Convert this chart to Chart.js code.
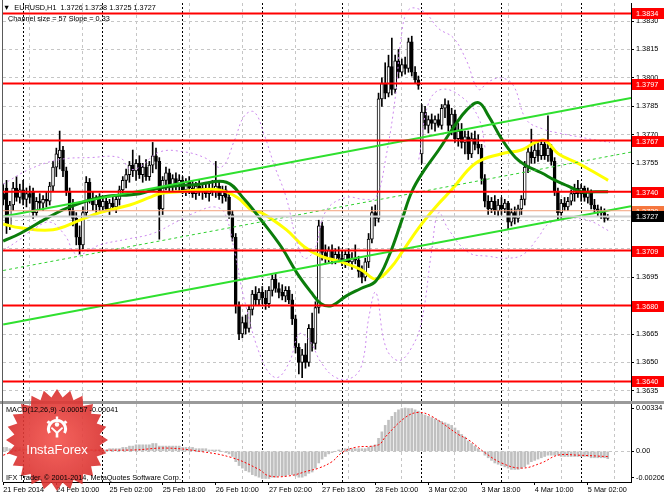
<!DOCTYPE html>
<html>
<head>
<meta charset="utf-8">
<script src="https://cdn.jsdelivr.net/npm/chart.js@4.4.0/dist/chart.umd.min.js"></script>
<style>
  html, body { margin: 0; padding: 0; background: #fff; }
  #wrap { position: relative; width: 664px; height: 498px; overflow: hidden; font-family: "Liberation Sans", Arial, sans-serif; }
  canvas { position: absolute; left: 0; top: 0; }
  .txt { position: absolute; font-size: 7.3px; line-height: 1; color: #000; white-space: pre; }
  #badge { position: absolute; left: 5px; top: 388px; opacity: 0.9; }
  #badgeText { position: absolute; left: 5px; top: 443px; width: 104px; text-align: center; color: #fff; font-size: 13px; line-height: 1; }
</style>
</head>
<body>
<div id="wrap">
  <canvas id="main" width="664" height="498"></canvas>
  <canvas id="macd" width="664" height="498"></canvas>
  <svg id="badge" width="104" height="104" viewBox="0 0 104 104">
    <defs>
      <radialGradient id="rg" cx="50%" cy="50%" r="50%">
        <stop offset="0%" stop-color="#f4524c"/>
        <stop offset="100%" stop-color="#d8302e"/>
      </radialGradient>
    </defs>
    <polygon id="star" fill="url(#rg)"/>
    <g fill="#fff">
      <path d="M44.5 45 A8.5 8.5 0 1 1 59.5 45" fill="none" stroke="#fff" stroke-width="3"/>
      <rect x="50.8" y="28.5" width="2.4" height="3"/>
      <rect x="42" y="33" width="3" height="2.4" transform="rotate(-40 43.5 34.2)"/>
      <rect x="59" y="33" width="3" height="2.4" transform="rotate(40 60.5 34.2)"/>
      <circle cx="52" cy="36.5" r="2.2"/>
      <path d="M47 39 L52 43.5 L57 39 L58.2 40.2 L53.3 45 L53.3 49.5 L50.7 49.5 L50.7 45 L45.8 40.2 Z"/>
    </g>
  </svg>
  <div id="badgeText">InstaForex</div>
  <div class="txt" style="left:3px;top:4px">▼  EURUSD,H1  1.3726 1.3728 1.3725 1.3727</div>
  <div class="txt" style="left:8px;top:15px">Channel size = 57 Slope = 0.33</div>
  <div class="txt" style="left:6px;top:406px">MACD(12,26,9) -0.00057 -0.00041</div>
  <div class="txt" style="left:6px;top:474px">IFX Trader, © 2001-2014, MetaQuotes Software Corp.</div>
</div>
<script>
const FONT = 'Liberation Sans';
const X_MIN = -0.06;
const X_MAX = 189;

// candles, EURUSD H1, bar 0 = 21 Feb 18:00
const opens = [
  1.3739, 1.3742, 1.3722, 1.3733, 1.3742, 1.3737, 1.3741, 1.3736, 1.3739, 1.3740,
  1.3729, 1.3735, 1.3734, 1.3736, 1.3735, 1.3743, 1.3753, 1.3758, 1.3762, 1.3751,
  1.3740, 1.3730, 1.3726, 1.3716, 1.3712, 1.3729, 1.3745, 1.3736, 1.3733, 1.3736,
  1.3732, 1.3735, 1.3731, 1.3734, 1.3732, 1.3736, 1.3741, 1.3746, 1.3749, 1.3754,
  1.3751, 1.3755, 1.3749, 1.3753, 1.3748, 1.3754, 1.3759, 1.3756, 1.3731, 1.3746,
  1.3750, 1.3743, 1.3747, 1.3744, 1.3746, 1.3741, 1.3745, 1.3742, 1.3739, 1.3743,
  1.3740, 1.3742, 1.3739, 1.3742, 1.3740, 1.3743, 1.3738, 1.3741, 1.3737, 1.3728,
  1.3716, 1.3680, 1.3665, 1.3671, 1.3668, 1.3678, 1.3686, 1.3683, 1.3687, 1.3684,
  1.3681, 1.3688, 1.3694, 1.3689, 1.3687, 1.3685, 1.3688, 1.3683, 1.3673, 1.3658,
  1.3650, 1.3654, 1.3650, 1.3668, 1.3660, 1.3679, 1.3722, 1.3708, 1.3705, 1.3709,
  1.3704, 1.3707, 1.3705, 1.3703, 1.3707, 1.3703, 1.3705, 1.3704, 1.3698, 1.3695,
  1.3703, 1.3715, 1.3729, 1.3726, 1.3789, 1.3797, 1.3792, 1.3806, 1.3794, 1.3809,
  1.3803, 1.3807, 1.3805, 1.3819, 1.3803, 1.3799, 1.3760, 1.3782, 1.3775, 1.3778,
  1.3776, 1.3778, 1.3775, 1.3784, 1.3786, 1.3775, 1.3781, 1.3768, 1.3772, 1.3766,
  1.3769, 1.3760, 1.3768, 1.3765, 1.3763, 1.3747, 1.3735, 1.3731, 1.3735, 1.3730,
  1.3733, 1.3731, 1.3734, 1.3724, 1.3729, 1.3726, 1.3731, 1.3736, 1.3753, 1.3761,
  1.3758, 1.3762, 1.3759, 1.3765, 1.3759, 1.3763, 1.3756, 1.3740, 1.3729, 1.3734,
  1.3732, 1.3735, 1.3739, 1.3742, 1.3739, 1.3742, 1.3737, 1.3740, 1.3733, 1.3731,
  1.3730, 1.3729, 1.3726
];
const highs = [
  1.3744, 1.3746, 1.3735, 1.3745, 1.3748, 1.3744, 1.3746, 1.3742, 1.3743, 1.3742,
  1.3737, 1.3739, 1.3738, 1.3740, 1.3745, 1.3756, 1.3763, 1.3772, 1.3764, 1.3753,
  1.3742, 1.3736, 1.3729, 1.3722, 1.3732, 1.3748, 1.3747, 1.3740, 1.3738, 1.3739,
  1.3737, 1.3738, 1.3736, 1.3737, 1.3738, 1.3743, 1.3748, 1.3752, 1.3756, 1.3762,
  1.3757, 1.3759, 1.3755, 1.3757, 1.3756, 1.3766, 1.3763, 1.3758, 1.3748, 1.3753,
  1.3752, 1.3749, 1.3750, 1.3749, 1.3748, 1.3747, 1.3748, 1.3746, 1.3745, 1.3746,
  1.3744, 1.3745, 1.3744, 1.3746, 1.3756, 1.3746, 1.3743, 1.3743, 1.3739, 1.3730,
  1.3718, 1.3682, 1.3674, 1.3675, 1.3680, 1.3688, 1.3690, 1.3689, 1.3690, 1.3688,
  1.3690, 1.3696, 1.3697, 1.3692, 1.3691, 1.3690, 1.3690, 1.3686, 1.3675, 1.3660,
  1.3657, 1.3660, 1.3670, 1.3676, 1.3682, 1.3725, 1.3724, 1.3712, 1.3711, 1.3712,
  1.3710, 1.3711, 1.3709, 1.3709, 1.3710, 1.3708, 1.3712, 1.3706, 1.3701, 1.3705,
  1.3718, 1.3732, 1.3733, 1.3792, 1.3800, 1.3808, 1.3812, 1.3821, 1.3812, 1.3815,
  1.3810, 1.3811, 1.3821, 1.3822, 1.3806, 1.3801, 1.3786, 1.3785, 1.3780, 1.3781,
  1.3780, 1.3781, 1.3786, 1.3789, 1.3788, 1.3784, 1.3783, 1.3776, 1.3776, 1.3772,
  1.3772, 1.3771, 1.3772, 1.3770, 1.3765, 1.3749, 1.3738, 1.3737, 1.3738, 1.3736,
  1.3737, 1.3736, 1.3735, 1.3731, 1.3732, 1.3733, 1.3738, 1.3756, 1.3764, 1.3773,
  1.3765, 1.3766, 1.3767, 1.3767, 1.3780, 1.3765, 1.3758, 1.3742, 1.3736, 1.3737,
  1.3737, 1.3741, 1.3744, 1.3746, 1.3744, 1.3743, 1.3742, 1.3741, 1.3736, 1.3733,
  1.3732, 1.3731, 1.3728
];
const lows = [
  1.3733, 1.3718, 1.3720, 1.3730, 1.3735, 1.3734, 1.3733, 1.3732, 1.3734, 1.3726,
  1.3727, 1.3731, 1.3730, 1.3732, 1.3733, 1.3740, 1.3748, 1.3752, 1.3748, 1.3738,
  1.3727, 1.3722, 1.3712, 1.3707, 1.3710, 1.3727, 1.3734, 1.3730, 1.3729, 1.3730,
  1.3729, 1.3730, 1.3728, 1.3730, 1.3729, 1.3733, 1.3738, 1.3742, 1.3745, 1.3748,
  1.3746, 1.3747, 1.3745, 1.3746, 1.3746, 1.3750, 1.3752, 1.3715, 1.3728, 1.3741,
  1.3740, 1.3740, 1.3741, 1.3740, 1.3739, 1.3738, 1.3739, 1.3737, 1.3736, 1.3738,
  1.3736, 1.3737, 1.3735, 1.3738, 1.3737, 1.3736, 1.3734, 1.3735, 1.3726, 1.3714,
  1.3676, 1.3662, 1.3663, 1.3665, 1.3666, 1.3675, 1.3680, 1.3680, 1.3681, 1.3678,
  1.3679, 1.3685, 1.3687, 1.3684, 1.3683, 1.3682, 1.3681, 1.3670, 1.3655, 1.3644,
  1.3642, 1.3647, 1.3648, 1.3656, 1.3657, 1.3676, 1.3704, 1.3702, 1.3703, 1.3702,
  1.3702, 1.3703, 1.3701, 1.3700, 1.3701, 1.3699, 1.3702, 1.3695, 1.3692, 1.3693,
  1.3700, 1.3713, 1.3722, 1.3724, 1.3785, 1.3789, 1.3790, 1.3791, 1.3792, 1.3800,
  1.3801, 1.3802, 1.3803, 1.3801, 1.3797, 1.3794, 1.3755, 1.3773, 1.3771, 1.3773,
  1.3772, 1.3774, 1.3773, 1.3779, 1.3772, 1.3770, 1.3766, 1.3764, 1.3763, 1.3760,
  1.3757, 1.3758, 1.3762, 1.3760, 1.3744, 1.3732, 1.3728, 1.3729, 1.3728, 1.3727,
  1.3728, 1.3729, 1.3720, 1.3722, 1.3723, 1.3724, 1.3728, 1.3733, 1.3750, 1.3755,
  1.3755, 1.3756, 1.3757, 1.3757, 1.3756, 1.3754, 1.3738, 1.3725, 1.3726, 1.3730,
  1.3730, 1.3733, 1.3735, 1.3737, 1.3735, 1.3735, 1.3734, 1.3731, 1.3729, 1.3727,
  1.3726, 1.3724, 1.3725
];
const closes = [
  1.3736, 1.3722, 1.3733, 1.3742, 1.3737, 1.3741, 1.3736, 1.3739, 1.3737, 1.3729,
  1.3735, 1.3734, 1.3736, 1.3735, 1.3743, 1.3753, 1.3760, 1.3762, 1.3751, 1.3740,
  1.3730, 1.3726, 1.3716, 1.3712, 1.3729, 1.3745, 1.3736, 1.3733, 1.3736, 1.3732,
  1.3735, 1.3731, 1.3734, 1.3732, 1.3736, 1.3741, 1.3746, 1.3749, 1.3754, 1.3751,
  1.3755, 1.3749, 1.3753, 1.3748, 1.3754, 1.3759, 1.3756, 1.3731, 1.3746, 1.3750,
  1.3743, 1.3747, 1.3744, 1.3746, 1.3741, 1.3745, 1.3742, 1.3739, 1.3743, 1.3740,
  1.3742, 1.3739, 1.3742, 1.3740, 1.3743, 1.3738, 1.3741, 1.3737, 1.3728, 1.3716,
  1.3680, 1.3665, 1.3671, 1.3668, 1.3678, 1.3686, 1.3683, 1.3687, 1.3684, 1.3681,
  1.3688, 1.3694, 1.3689, 1.3687, 1.3685, 1.3688, 1.3683, 1.3673, 1.3658, 1.3650,
  1.3654, 1.3650, 1.3668, 1.3660, 1.3679, 1.3722, 1.3708, 1.3705, 1.3709, 1.3704,
  1.3707, 1.3705, 1.3703, 1.3707, 1.3703, 1.3705, 1.3704, 1.3698, 1.3695, 1.3703,
  1.3715, 1.3729, 1.3726, 1.3789, 1.3797, 1.3792, 1.3806, 1.3794, 1.3809, 1.3803,
  1.3807, 1.3805, 1.3819, 1.3803, 1.3799, 1.3796, 1.3782, 1.3775, 1.3778, 1.3776,
  1.3778, 1.3775, 1.3784, 1.3786, 1.3775, 1.3781, 1.3768, 1.3772, 1.3766, 1.3769,
  1.3760, 1.3768, 1.3765, 1.3763, 1.3747, 1.3735, 1.3731, 1.3735, 1.3730, 1.3733,
  1.3731, 1.3734, 1.3724, 1.3729, 1.3726, 1.3731, 1.3736, 1.3753, 1.3761, 1.3758,
  1.3762, 1.3759, 1.3765, 1.3759, 1.3763, 1.3756, 1.3740, 1.3729, 1.3734, 1.3732,
  1.3735, 1.3739, 1.3742, 1.3739, 1.3742, 1.3737, 1.3740, 1.3733, 1.3731, 1.3730,
  1.3729, 1.3726, 1.3727
];

// moving averages (bar, price)
const greenMaBars = [0, 5.1, 14.1, 20.1, 29.1, 41.1, 47.1, 59.1, 67.2, 72.6, 77.7, 83.7, 88.5, 92.7, 95.7, 99, 103.2, 107.7, 112.2, 116.1, 120, 123, 126.6, 131.1, 135.6, 139.5, 143.1, 146.1, 150, 154.2, 157.2, 162, 166.2, 170.1, 174, 178.2, 182.1];
const greenMaValues = [1.3714, 1.3718, 1.3727, 1.3732, 1.3737, 1.3739, 1.3742, 1.3744, 1.3745, 1.3736, 1.3725, 1.3711, 1.3697, 1.3687, 1.3681, 1.3680, 1.3685, 1.3689, 1.3693, 1.3706, 1.3725, 1.3740, 1.3751, 1.3762, 1.3774, 1.3783, 1.3787, 1.3780, 1.3768, 1.3758, 1.3754, 1.3750, 1.3746, 1.3743, 1.3740, 1.3740, 1.3740];
const yellowMaBars = [0, 5.1, 15, 23.1, 29.1, 38.1, 44.1, 47.1, 53.1, 59.1, 65.1, 70.5, 75, 77.7, 85.2, 90.6, 95.7, 101.7, 107.7, 112.2, 116.7, 120, 125.1, 130.2, 135, 142.2, 150, 156, 160.2, 163.2, 167.1, 173.1, 178.2, 182.1];
const yellowMaValues = [1.3723, 1.3721, 1.3720, 1.3725, 1.3729, 1.3733, 1.3737, 1.3739, 1.3740, 1.3741, 1.3741, 1.3737, 1.3730, 1.3729, 1.3720, 1.3711, 1.3706, 1.3703, 1.3699, 1.3694, 1.3700, 1.3708, 1.3721, 1.3732, 1.3741, 1.3755, 1.3760, 1.3762, 1.3766, 1.3767, 1.3760, 1.3755, 1.3750, 1.3746];

// dotted violet bands
const upperBandBars = [0, 8.1, 17.1, 26.1, 35.1, 38.1, 41.1, 47.1, 54.6, 60.6, 65.7, 69.6, 72.6, 75.6, 78.6, 81.6, 85.2, 88.2, 90.6, 93.6, 97.2, 103.2, 108.6, 112.2, 115.2, 118.2, 119.7, 122.1, 126.6, 131.1, 135.6, 139.5, 143.1, 146.1, 150, 153.6, 157.5, 162.6, 167.1, 173.1, 179.1, 182.7];
const upperBandValues = [1.3744, 1.3752, 1.3757, 1.3758, 1.3758, 1.3752, 1.3753, 1.3761, 1.3761, 1.3758, 1.3753, 1.3767, 1.3780, 1.3782, 1.3770, 1.3754, 1.3737, 1.3715, 1.3705, 1.3709, 1.3730, 1.3737, 1.3736, 1.3737, 1.3758, 1.3792, 1.3820, 1.3836, 1.3835, 1.3826, 1.3821, 1.3809, 1.3794, 1.3798, 1.3800, 1.3796, 1.3778, 1.3773, 1.3771, 1.3769, 1.3767, 1.3766];
const lowerBandBars = [0, 5.1, 8.1, 14.1, 18.6, 22.2, 29.1, 37.2, 45, 53.1, 59.1, 63.6, 66.6, 69.6, 72.6, 78, 82.2, 86.1, 89.1, 92.1, 95.7, 100.2, 105, 108, 110.1, 112.2, 115.2, 119.1, 123, 126, 129, 131.1, 134.1, 140.1, 146.1, 152.1, 156.6, 161.1, 164.1, 170.1, 176.1, 182.7];
const lowerBandValues = [1.3709, 1.3715, 1.3719, 1.3724, 1.3717, 1.3707, 1.3712, 1.3715, 1.3718, 1.3725, 1.3730, 1.3732, 1.3729, 1.3709, 1.3683, 1.3651, 1.3642, 1.3650, 1.3665, 1.3662, 1.3650, 1.3642, 1.3642, 1.3649, 1.3674, 1.3687, 1.3658, 1.3651, 1.3658, 1.3672, 1.3709, 1.3729, 1.3720, 1.3708, 1.3706, 1.3705, 1.3707, 1.3716, 1.3723, 1.3726, 1.3725, 1.3719];
const arcBandBars = [125.1, 128.1, 132, 138, 143.1, 145.2];
const arcBandValues = [1.3757, 1.3787, 1.3794, 1.3790, 1.3779, 1.3762];

// equidistant channel (size 57, slope 0.33)
const channelBars = [0, 189];
const channelUpper = [1.3727, 1.37894];
const channelMiddle = [1.36985, 1.37609];
const channelLower = [1.3670, 1.37324];

const levels = [1.3834, 1.3797, 1.3767, 1.3740, 1.3709, 1.3680, 1.3640];
const askLevel = 1.3730;
const lastPrice = 1.3727;

const priceTicks = [1.3830, 1.3815, 1.3800, 1.3785, 1.3770, 1.3755, 1.3740, 1.3725, 1.3710, 1.3695, 1.3680, 1.3665, 1.3650, 1.3635];
const gridBars = [8, 24, 40, 56, 72, 88, 104, 120, 136, 152, 168, 184];
const daySeparatorBars = [6, 30, 54, 78, 102, 126, 150, 174];
const timeTickBars = [0, 16, 32, 48, 64, 80, 96, 112, 128, 144, 160, 176];
const timeLabels = ["21 Feb 2014", "24 Feb 10:00", "25 Feb 02:00", "25 Feb 18:00", "26 Feb 10:00", "27 Feb 02:00", "27 Feb 18:00", "28 Feb 10:00", "3 Mar 02:00", "3 Mar 18:00", "4 Mar 10:00", "5 Mar 02:00"];

// MACD(12,26,9)
const macdMain = [
  0.0003, 0.0003, 0.0002, 0.0002, 0.0003, 0.0003, 0.0003, 0.0002, 0.0002,
  0.0001, 0.0001, 0.0001, 0.0001, 0.0001, 0.0002, 0.0003, 0.0004, 0.0005, 0.0004,
  0.0003, 0.0001, 0.0000, -0.0001, -0.0001, 0.0000, 0.0001, 0.0001, 0.0001, 0.0001,
  0.0001, 0.0001,
  0.0001, 0.0002, 0.0002, 0.0002, 0.0002, 0.0003, 0.0003, 0.0004,
  0.0004, 0.0005, 0.0005, 0.0005, 0.0005, 0.0005, 0.0006, 0.0006, 0.0004, 0.0004,
  0.0004, 0.0004, 0.0004, 0.0004, 0.0004, 0.0003, 0.0003, 0.0003, 0.0003, 0.0002, 0.0002, 0.0002,
  0.0002, 0.0001, 0.0001, 0.0001, 0.0001, 0.0000,
  -0.0001, -0.0002, -0.0004, -0.0008,
  -0.0011, -0.0013, -0.0015, -0.0016, -0.0018, -0.0019, -0.0020, -0.0021,
  -0.0021, -0.0021, -0.0020, -0.0020, -0.0019, -0.0019, -0.0019, -0.0018,
  -0.0018, -0.0019, -0.0020, -0.0020, -0.0019, -0.0017, -0.0016, -0.0013, -0.0009, -0.0006,
  -0.0004, -0.0002, -0.0001, 0.0000, 0.0001, 0.0001, 0.0002, 0.0002, 0.0002, 0.0002, 0.0002, 0.0002,
  0.0002, 0.0003, 0.0004, 0.0005, 0.0010,
  0.0015, 0.0020, 0.0024, 0.0027, 0.0030,
  0.0032, 0.0033, 0.00334, 0.0033, 0.0033,
  0.0032, 0.0031, 0.0029, 0.0028, 0.0027, 0.0026, 0.0025,
  0.0024, 0.0023, 0.0022, 0.0021, 0.0020, 0.0018, 0.0016,
  0.0013, 0.0011, 0.0008, 0.0006, 0.0004, 0.0002,
  0.0000, -0.0003, -0.0005, -0.0007, -0.0009, -0.0010, -0.0011, -0.0012, -0.0013,
  -0.0014, -0.0014, -0.0014, -0.0013, -0.0012, -0.0010, -0.0008, -0.0007,
  -0.0006, -0.0005, -0.0004, -0.0003, -0.0003, -0.0003,
  -0.0003, -0.0004, -0.0004, -0.0004, -0.0004, -0.0004, -0.0004, -0.0004,
  -0.0004, -0.0004, -0.0005, -0.0005, -0.0005, -0.0005, -0.0005, -0.00057
];
const signalBars = [0, 5, 20, 39, 49, 59, 69, 77, 80, 86, 92, 95, 99, 102, 106, 113, 115, 121, 125, 129, 137, 140, 145, 150, 156, 162, 167, 173, 182];
const signalValues = [-0.0003, 0.0001, 0.0001, 0.0001, 0.00025, 0.0, -0.0005, -0.0014, -0.0019, -0.0019, -0.0015, -0.0013, -0.0008, -0.0001, 0.0003, 0.0005, 0.0011, 0.0026, 0.0030, 0.0027, 0.0013, 0.0009, -0.0001, -0.0009, -0.0013, -0.0009, -0.0003, -0.0003, -0.00041];

// starburst badge outline
const star = [];
for (let k = 0; k < 48; k++) {
  const r = k % 2 ? 43 : 51;
  const a = Math.PI * k / 24;
  star.push((52 + r * Math.sin(a)).toFixed(1) + ',' + (52 - r * Math.cos(a)).toFixed(1));
}
document.getElementById('star').setAttribute('points', star.join(' '));

const pts = (xs, ys) => xs.map((x, i) => ({ x: x, y: ys[i] }));
const flat = (v) => [{ x: X_MIN, y: v }, { x: X_MAX, y: v }];

function hiddenX(list, color, dash) {
  return {
    type: 'linear', min: X_MIN, max: X_MAX, position: 'bottom', bounds: 'data', offset: false,
    afterBuildTicks: (s) => { s.ticks = list.map((v) => ({ value: v })); },
    afterFit: (s) => { s.height = 0; s.paddingLeft = 0; s.paddingRight = 0; },
    ticks: { display: false },
    grid: { color: color, lineWidth: 1, drawTicks: false, offset: false },
    border: { display: false, dash: dash },
  };
}

const lineStyle = (color, width, dash, order) => ({
  type: 'line', borderColor: color, borderWidth: width, borderDash: dash,
  pointRadius: 0, tension: 0.4, fill: false, order: order, xAxisID: 'x',
});

const levelLabels = {
  id: 'levelLabels',
  afterDraw(chart) {
    const ctx = chart.ctx;
    const y = chart.scales.y;
    const left = chart.chartArea.right + 1;
    const tag = (v, bg) => {
      const py = Math.round(y.getPixelForValue(v));
      ctx.fillStyle = bg;
      ctx.fillRect(left, py - 5, 664 - left, 11);
      ctx.fillStyle = '#fff';
      ctx.fillText(v.toFixed(4), left + 4, py + 0.5);
    };
    ctx.save();
    ctx.font = '7.3px "' + FONT + '"';
    ctx.textBaseline = 'middle';
    levels.forEach((v) => tag(v, '#ff0000'));
    tag(askLevel, '#f5773f');
    tag(lastPrice, '#000000');
    ctx.restore();
  },
};

const frame = {
  id: 'frame',
  afterDraw(chart) {
    const ctx = chart.ctx;
    ctx.save();
    ctx.fillStyle = '#9a9a9a';
    ctx.fillRect(0, 401, 664, 3);
    ctx.fillStyle = '#5a5a5a';
    ctx.fillRect(2, 0, 1, 482);
    ctx.restore();
  },
};

const datasetsMain = [
  ...levels.map((v) => Object.assign(lineStyle('#ff0000', 2, [], 1), { data: flat(v), tension: 0 })),
  Object.assign(lineStyle('#f4a07c', 1, [], 2), { data: flat(askLevel), tension: 0 }),
  Object.assign(lineStyle('#cfcfcf', 2, [], 2), { data: flat(lastPrice), tension: 0 }),
  Object.assign(lineStyle('#2fe02f', 2, [], 3), { data: pts(channelBars, channelUpper), tension: 0 }),
  Object.assign(lineStyle('#2fe02f', 2, [], 3), { data: pts(channelBars, channelLower), tension: 0 }),
  Object.assign(lineStyle('#2fd02f', 1, [3, 3], 3), { data: pts(channelBars, channelMiddle), tension: 0 }),
  Object.assign(lineStyle('#cc88ee', 1, [2, 3], 4), { data: pts(upperBandBars, upperBandValues) }),
  Object.assign(lineStyle('#cc88ee', 1, [2, 3], 4), { data: pts(lowerBandBars, lowerBandValues) }),
  Object.assign(lineStyle('#cc88ee', 1, [2, 3], 4), { data: pts(arcBandBars, arcBandValues) }),
  Object.assign(lineStyle('#0b7d0b', 3, [], 5), { data: pts(greenMaBars, greenMaValues) }),
  Object.assign(lineStyle('#ffff00', 3, [], 6), { data: pts(yellowMaBars, yellowMaValues) }),
  {
    type: 'bar', xAxisID: 'x', order: 7, grouped: false, barThickness: 3, minBarLength: 1,
    data: opens.map((o, i) => ({ x: i, y: [o, closes[i]] })),
    backgroundColor: opens.map((o, i) => (closes[i] >= o ? '#ffffff' : '#000000')),
    borderColor: '#000000', borderWidth: 1, borderSkipped: false,
  },
  {
    type: 'bar', xAxisID: 'x', order: 8, grouped: false, barThickness: 1,
    data: highs.map((h, i) => ({ x: i, y: [lows[i], h] })),
    backgroundColor: '#000000',
  },
];

new Chart(document.getElementById('main'), {
  type: 'bar',
  data: { datasets: datasetsMain },
  options: {
    responsive: false, animation: false, events: [],
    layout: { padding: { left: 3, top: 3, right: 0, bottom: 97 } },
    plugins: { legend: { display: false }, tooltip: { enabled: false } },
    scales: {
      x: hiddenX(gridBars, '#c6c6c6', [3, 3]),
      xd: hiddenX(daySeparatorBars, '#000000', [2, 2]),
      y: {
        position: 'right', min: 1.36297, max: 1.38395, bounds: 'data', beginAtZero: false,
        afterBuildTicks: (s) => { s.ticks = priceTicks.map((v) => ({ value: v })); },
        afterFit: (s) => { s.width = 33; s.paddingTop = 0; s.paddingBottom = 0; },
        ticks: { callback: (v) => v.toFixed(4), color: '#000', padding: 2, autoSkip: false, font: { family: FONT, size: 7.3 } },
        grid: { color: '#c6c6c6', tickColor: '#000', tickLength: 3 },
        border: { display: true, color: '#000', dash: [3, 3] },
      },
    },
  },
  plugins: [levelLabels],
});

new Chart(document.getElementById('macd'), {
  type: 'bar',
  data: {
    datasets: [
      Object.assign(lineStyle('#ff0000', 1, [2, 2], 1), { data: pts(signalBars, signalValues) }),
      {
        type: 'bar', xAxisID: 'x', order: 2, grouped: false, barThickness: 2,
        data: macdMain.map((v, i) => ({ x: i, y: v })),
        backgroundColor: '#c0c0c0',
      },
    ],
  },
  options: {
    responsive: false, animation: false, events: [],
    layout: { padding: { left: 3, top: 404, right: 0, bottom: 0 } },
    plugins: { legend: { display: false }, tooltip: { enabled: false } },
    scales: {
      x: {
        type: 'linear', min: X_MIN, max: X_MAX, position: 'bottom', bounds: 'data', offset: false,
        afterBuildTicks: (s) => { s.ticks = timeTickBars.map((v) => ({ value: v })); },
        afterFit: (s) => { s.height = 16; s.paddingLeft = 0; s.paddingRight = 0; },
        ticks: {
          autoSkip: false, maxRotation: 0, minRotation: 0, align: 'start', padding: 1, color: '#000',
          font: { family: FONT, size: 7.3 }, callback: (v, i) => timeLabels[i],
        },
        grid: { drawOnChartArea: false, drawTicks: true, tickLength: 3, tickColor: '#000', offset: false },
        border: { display: true, color: '#000' },
      },
      xg: hiddenX(gridBars, '#c6c6c6', [3, 3]),
      xd: hiddenX(daySeparatorBars, '#000000', [2, 2]),
      y: {
        position: 'right', min: -0.00237, max: 0.00365, bounds: 'data', beginAtZero: false,
        afterBuildTicks: (s) => { s.ticks = [0.00334, 0, -0.00206].map((v) => ({ value: v })); },
        afterFit: (s) => { s.width = 33; s.paddingTop = 0; s.paddingBottom = 0; },
        ticks: { callback: (v) => (v === 0 ? '0.00' : v.toFixed(5)), color: '#000', padding: 2, autoSkip: false, font: { family: FONT, size: 7.3 } },
        grid: { color: (c) => (c.tick && c.tick.value === 0 ? '#c6c6c6' : 'rgba(0,0,0,0)'), tickColor: '#000', tickLength: 3 },
        border: { display: true, color: '#000', dash: [3, 3] },
      },
    },
  },
  plugins: [frame],
});
</script>
</body>
</html>
